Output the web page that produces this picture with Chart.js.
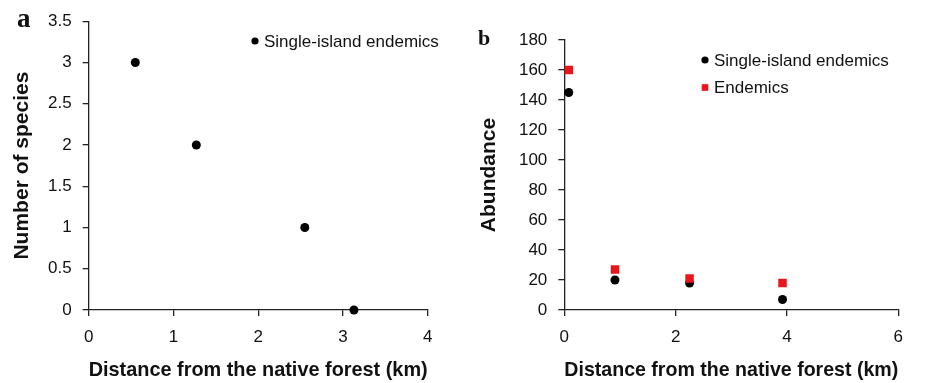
<!DOCTYPE html>
<html>
<head>
<meta charset="utf-8">
<script src="https://cdn.jsdelivr.net/npm/chart.js@4.4.1/dist/chart.umd.min.js"></script>
<style>
  html, body { margin: 0; padding: 0; background: #fff; }
  #wrap { position: relative; width: 932px; height: 383px; overflow: hidden; }
  canvas { position: absolute; top: 0; }
  .panel-tag { position: absolute; font-family: "Liberation Serif", "DejaVu Serif", serif; font-weight: bold; color: #111; line-height: 1; }
</style>
</head>
<body>
<div id="wrap">
  <canvas id="chartA" width="466" height="383" style="left:0"></canvas>
  <canvas id="chartB" width="466" height="383" style="left:466px"></canvas>
  <span class="panel-tag" style="left:17px; top:5px; font-size:27px;">a</span>
  <span class="panel-tag" style="left:478px; top:27px; font-size:22px;">b</span>
</div>
<script>
// panel a: number of single-island endemic species vs distance
var distA = [0.55, 1.27, 2.55, 3.13];
var speciesA = [3, 2, 1, 0];

// panel b: abundance vs distance
var distB = [0.08, 0.91, 2.25, 3.92];
var singleB = [145, 20, 18, 7];
var endemicsB = [160, 27, 21, 18];

var xTitle = 'Distance from the native forest (km)';

function pts(xs, ys) {
    return xs.map(function (x, i) { return { x: x, y: ys[i] }; });
}

// legend drawn inside the plot area
var insideLegend = {
    id: 'insideLegend',
    afterDraw: function (chart, args, opts) {
        var ctx = chart.ctx;
        ctx.save();
        ctx.font = '17px "Liberation Sans", Arial, sans-serif';
        ctx.textBaseline = 'middle';
        chart.data.datasets.forEach(function (ds, i) {
            var y = opts.y + i * opts.rowGap;
            ctx.fillStyle = ds.backgroundColor;
            if (ds.pointStyle === 'rect') {
                ctx.fillRect(opts.x - 3.3, y - 3.3, 6.6, 6.6);
            } else {
                ctx.beginPath();
                ctx.arc(opts.x, y, 3.6, 0, Math.PI * 2);
                ctx.fill();
            }
            ctx.fillStyle = '#111';
            ctx.fillText(ds.label, opts.textX, y + 1);
        });
        ctx.restore();
    }
};

function axis(min, max, step, title, isX, size, titlePad) {
    return {
        type: 'linear',
        position: isX ? 'bottom' : 'left',
        min: min, max: max,
        afterFit: function (scale) {
            if (isX) scale.height = size; else scale.width = size;
        },
        border: { display: true, color: '#222', width: 1.3 },
        grid: { display: true, drawOnChartArea: false, drawTicks: true, tickLength: 6, color: '#222', lineWidth: 1.3 },
        ticks: {
            stepSize: step, padding: 11, color: '#111',
            font: { family: '"Liberation Sans", Arial, sans-serif', size: 17 },
            maxRotation: 0,
            callback: function (v) { return String(v); }
        },
        title: {
            display: true, text: title, color: '#111',
            font: { family: '"Liberation Sans", Arial, sans-serif', size: 21, weight: 'bold', lineHeight: 1.2 },
            padding: titlePad
        }
    };
}

function makeChart(id, datasets, xs, ys, pad, legend) {
    return new Chart(document.getElementById(id).getContext('2d'), {
        type: 'scatter',
        data: { datasets: datasets },
        options: {
            responsive: false,
            animation: false,
            layout: { padding: pad },
            plugins: {
                legend: { display: false },
                tooltip: { enabled: false },
                insideLegend: legend
            },
            scales: { x: xs, y: ys }
        },
        plugins: [insideLegend]
    });
}

makeChart('chartA', [{
    label: 'Single-island endemics',
    data: pts(distA, speciesA),
    pointStyle: 'circle', pointRadius: 4.5,
    backgroundColor: '#000', borderColor: '#000', borderWidth: 0,
    clip: false
}],
    axis(0, 4, 1, xTitle, true, 73, { top: 0, bottom: 0 }),
    axis(0, 3.5, 0.5, 'Number of species', false, 88.7, { top: 10, bottom: 0 }),
    { left: 0, top: 20.7, right: 38.3, bottom: 0 },
    { x: 255, y: 41, textX: 264, rowGap: 27.5 });

makeChart('chartB', [{
    label: 'Single-island endemics',
    data: pts(distB, singleB),
    pointStyle: 'circle', pointRadius: 4.5,
    backgroundColor: '#000', borderColor: '#000', borderWidth: 0,
    order: 1, clip: false
}, {
    label: 'Endemics',
    data: pts(distB, endemicsB),
    pointStyle: 'rect', pointRadius: 6,
    backgroundColor: '#e8151b', borderColor: '#e8151b', borderWidth: 0,
    order: 0, clip: false
}],
    axis(0, 6, 2, xTitle, true, 73, { top: 0, bottom: 0 }),
    axis(0, 180, 20, 'Abundance', false, 98.3, { top: 11, bottom: 0 }),
    { left: 0, top: 40, right: 33.7, bottom: 0 },
    { x: 239, y: 60, textX: 248, rowGap: 27.5 });
</script>
</body>
</html>
